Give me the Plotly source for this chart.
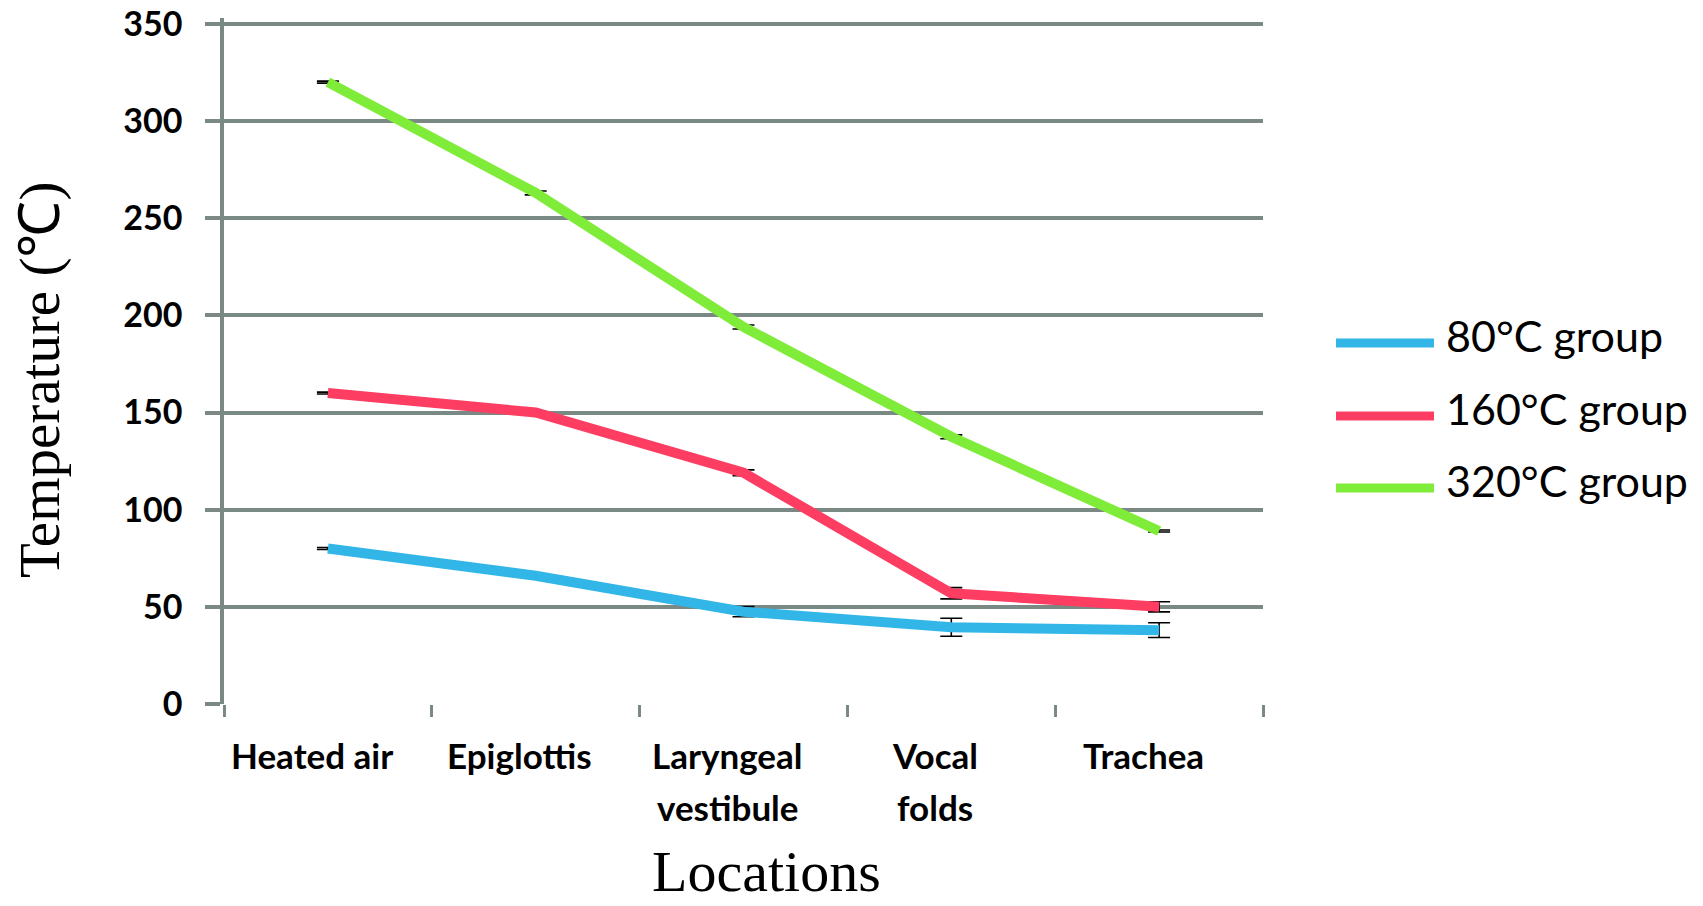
import plotly.graph_objects as go

locations = ["Heated air", "Epiglottis", "Laryngeal vestibule", "Vocal folds", "Trachea"]
label_line1 = ["Heated air", "Epiglottis", "Laryngeal", "Vocal", "Trachea"]
label_line2 = ["", "", "vestibule", "folds", ""]
series_names = ["80°C group", "160°C group", "320°C group"]
g80 = [80, 66, 47.5, 39.5, 38]
g80_err = [0.5, 0.5, 2.6, 4.6, 3.8]
g160 = [160, 150, 119, 57, 50]
g160_err = [0.5, 0.5, 1.5, 2.9, 2.6]
g320 = [320, 263, 194, 137.5, 89]
g320_err = [0.5, 1.0, 1.0, 1.0, 0.5]
y_ticks = [0, 50, 100, 150, 200, 250, 300, 350]
colors = ["#31b6e7", "#fd3e62", "#80ec3a"]

grid = "#7b8985"
y_top = 353

fig = go.Figure()
for name, vals, errs, col in zip(series_names, [g80, g160, g320],
                                 [g80_err, g160_err, g320_err], colors):
    fig.add_trace(go.Scatter(
        x=locations, y=vals, name=name, mode="lines",
        line=dict(color=col, width=10),
        error_y=dict(type="data", array=errs, visible=True,
                     color="black", thickness=1.6, width=11),
        showlegend=False,
    ))

# page body margin offset (8px) compensated
O = 8
W, H = 1703 - O, 906 - O
unit = (704 - 24) / 350.0
L, R, B = 224 - O, 1263 - O, 704 - O
T = round(B - y_top * unit)
pw, ph = R - L, B - T

def px(x):
    return (x - O - L) / pw

def py(y):
    return (B - (y - O)) / ph

shapes = []
annotations = []
leg_y = [343, 416, 488]
for name, col, yy in zip(series_names, colors, leg_y):
    shapes.append(dict(type="line", xref="paper", yref="paper",
                       x0=px(1336), x1=px(1434), y0=py(yy), y1=py(yy),
                       line=dict(color=col, width=9)))
    annotations.append(dict(xref="paper", yref="paper", x=px(1444), y=py(yy - 8),
                            text=name, showarrow=False, xanchor="left", yanchor="middle",
                            font=dict(family="Lato", size=43, color="black")))

lab_font = dict(family="Lato", size=35, color="black", weight="bold")
for cat, l1, l2 in zip(locations, label_line1, label_line2):
    annotations.append(dict(xref="x", yref="paper", x=cat, y=py(755), xshift=-16,
                            text=l1, showarrow=False, xanchor="center", yanchor="middle",
                            font=lab_font))
    if l2:
        annotations.append(dict(xref="x", yref="paper", x=cat, y=py(807), xshift=-16,
                                text=l2, showarrow=False, xanchor="center", yanchor="middle",
                                font=lab_font))

annotations.append(dict(xref="paper", yref="paper", x=px(766), y=py(906),
                        text="Locations", showarrow=False, xanchor="center", yanchor="bottom",
                        font=dict(family="Liberation Serif", size=58, color="black")))
annotations.append(dict(xref="paper", yref="paper", x=px(40), y=py(380),
                        text="Temperature (℃)", showarrow=False, textangle=-90,
                        xanchor="center", yanchor="middle",
                        font=dict(family="Liberation Serif", size=57, color="black")))

fig.update_layout(
    width=W, height=H,
    margin=dict(l=L, r=W - R, t=T, b=H - B, autoexpand=False),
    paper_bgcolor="white", plot_bgcolor="white",
    shapes=shapes, annotations=annotations,
    showlegend=False,
)
fig.update_xaxes(
    type="category", range=[-0.5, 4.5], tickson="boundaries",
    ticks="outside", ticklen=12, tickwidth=3, tickcolor=grid,
    showticklabels=False,
    showgrid=False, showline=False, zeroline=False, automargin=False,
)
fig.update_yaxes(
    range=[0, y_top], tickmode="array", tickvals=y_ticks,
    showgrid=True, gridcolor=grid, gridwidth=3.5,
    showline=True, linecolor=grid, linewidth=3.5,
    ticks="outside", ticklen=15, tickwidth=3.5, tickcolor=grid,
    zeroline=False, automargin=False, ticklabeloverflow="allow",
    tickfont=dict(family="Lato", size=34, color="black", weight="bold"),
    ticklabelstandoff=16,
)

fig.write_html("out.html")
